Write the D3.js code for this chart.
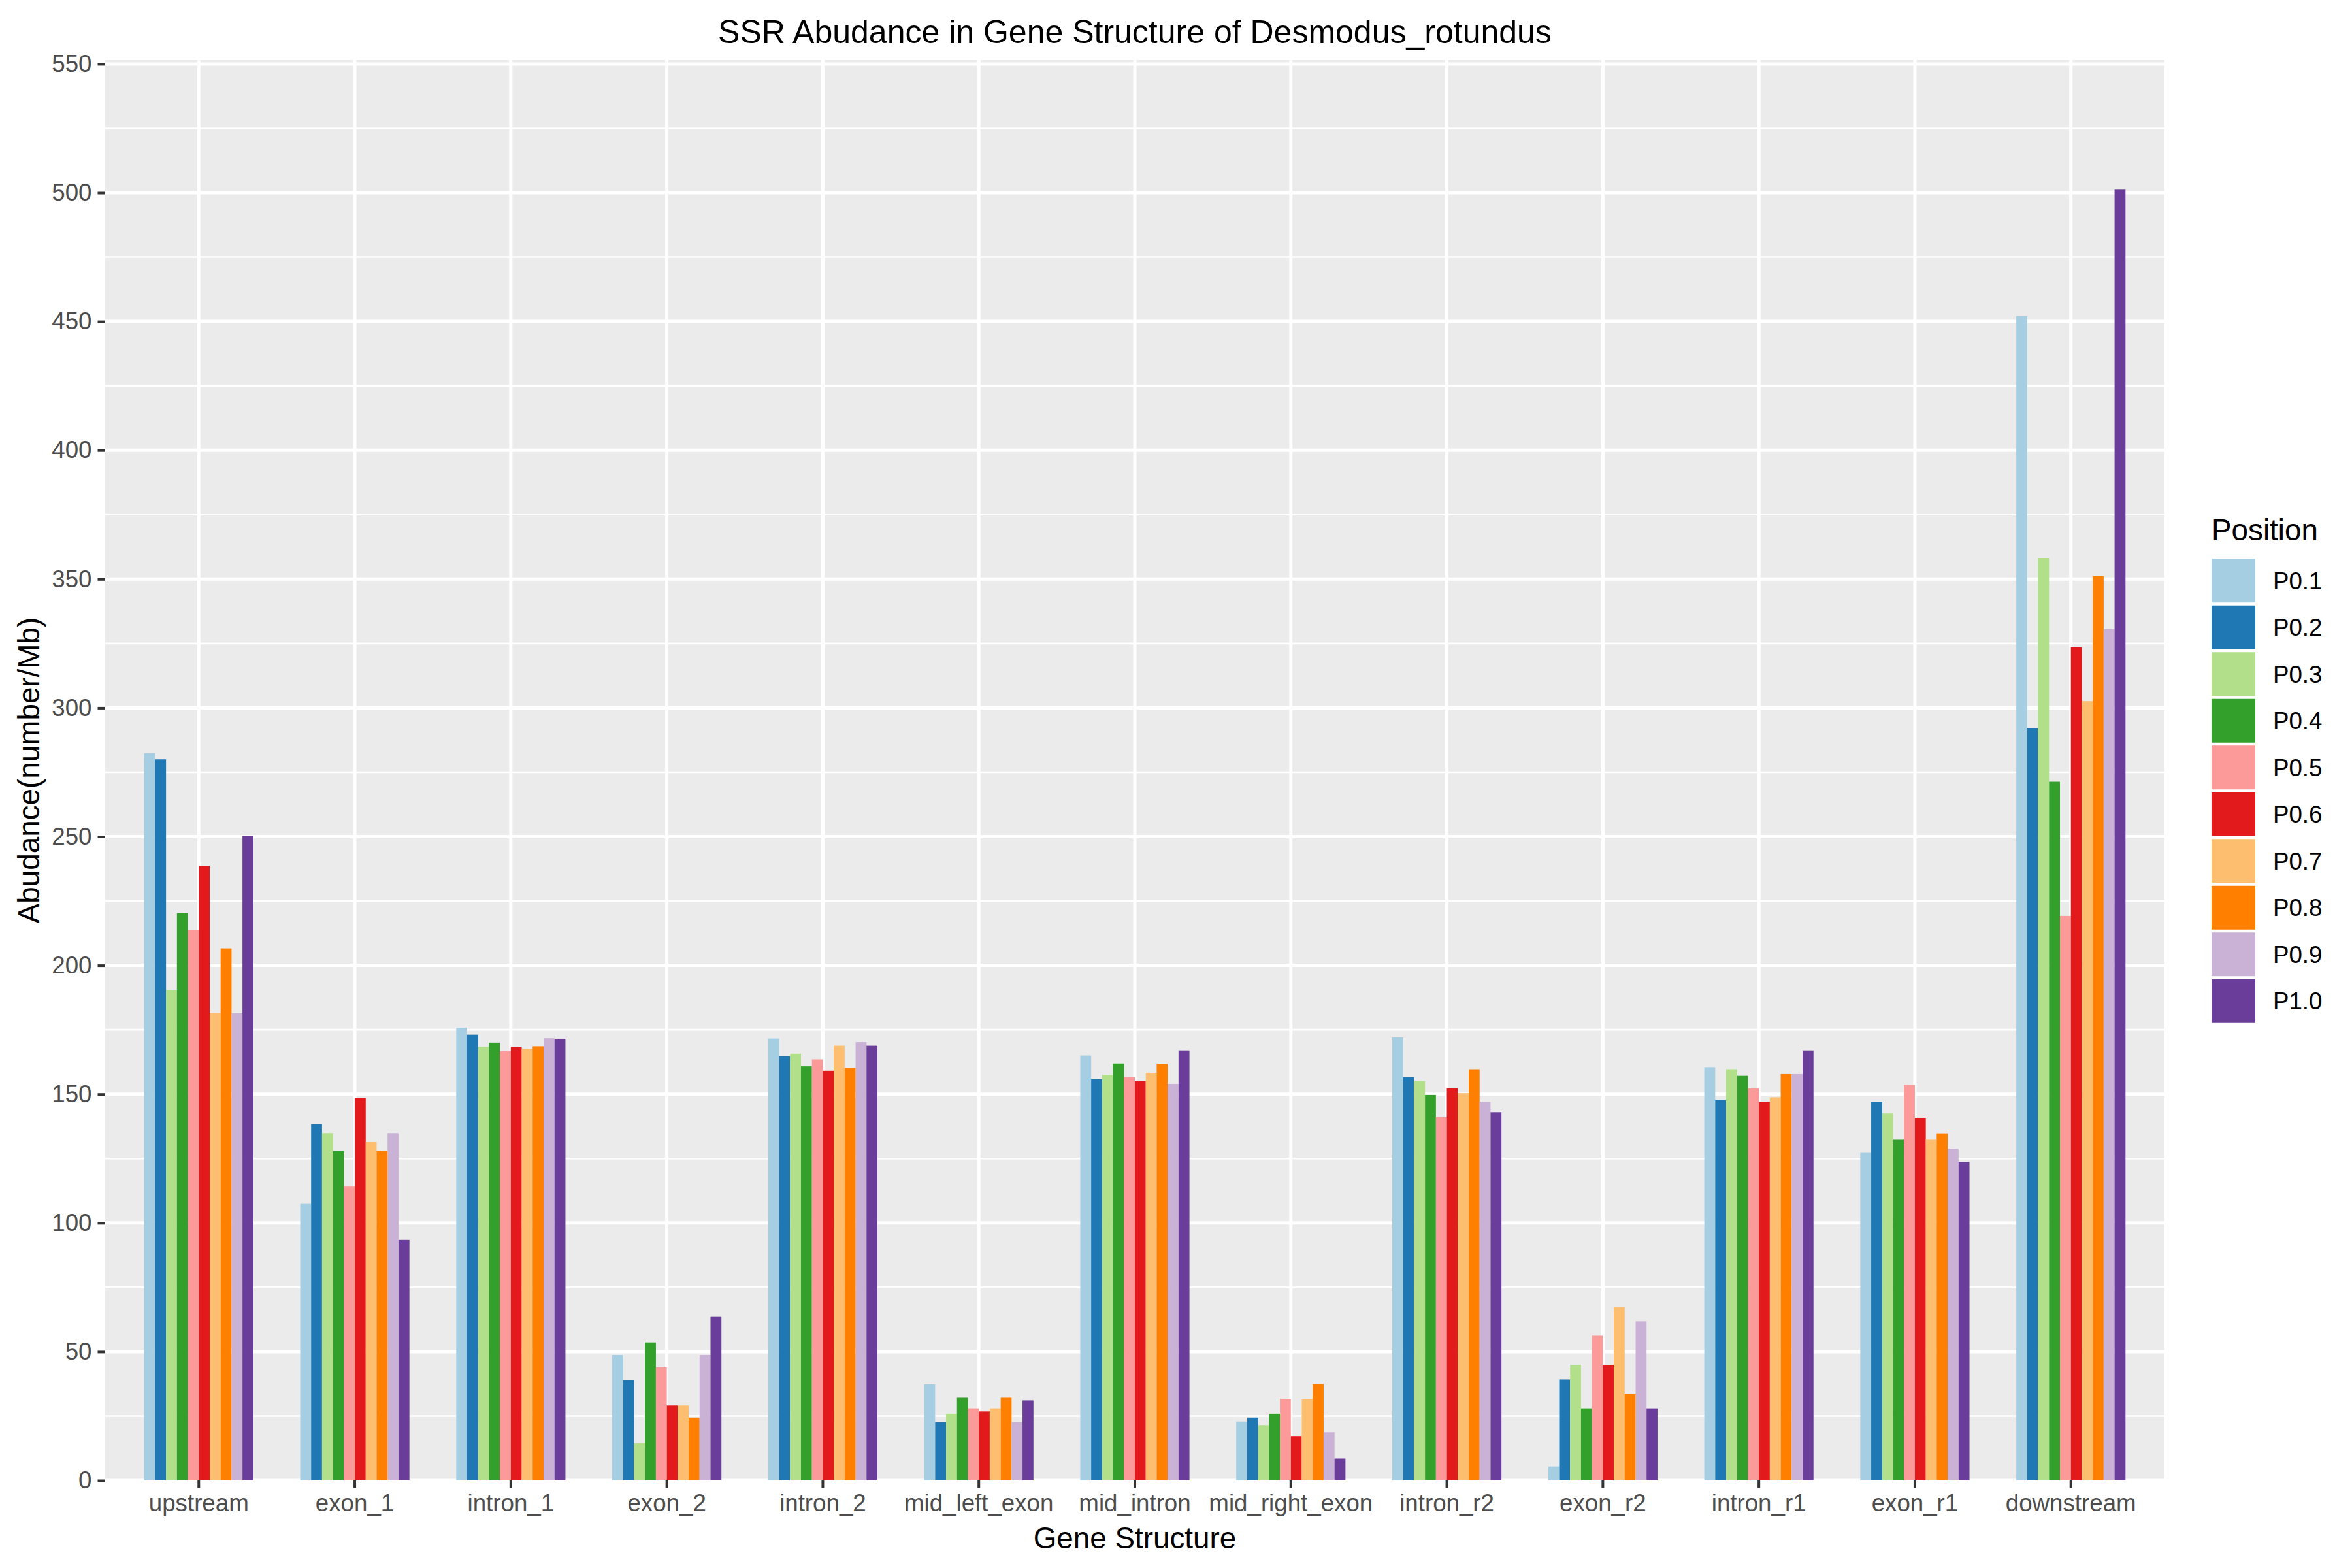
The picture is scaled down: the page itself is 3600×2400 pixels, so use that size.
<!DOCTYPE html>
<html>
<head>
<meta charset="utf-8">
<script src="https://cdn.jsdelivr.net/npm/d3@7"></script>
<style>
  html, body { margin: 0; padding: 0; background: #ffffff; }
  svg { display: block; }
  text { font-family: "Liberation Sans", Arial, Helvetica, sans-serif; }
</style>
</head>
<body>
<script>
// ---------- DATA ----------
const categories = ["upstream", "exon_1", "intron_1", "exon_2", "intron_2", "mid_left_exon",
  "mid_intron", "mid_right_exon", "intron_r2", "exon_r2", "intron_r1", "exon_r1", "downstream"];
const seriesNames = ["P0.1", "P0.2", "P0.3", "P0.4", "P0.5", "P0.6", "P0.7", "P0.8", "P0.9", "P1.0"];
const P01 = [282.4, 107.4, 175.8, 48.7, 171.6, 37.3, 165.0, 22.9, 172.0, 5.4, 160.5, 127.2, 452.1];
const P02 = [280.0, 138.4, 173.1, 39.0, 164.8, 22.7, 155.8, 24.4, 156.6, 39.2, 147.7, 146.9, 292.2];
const P03 = [190.5, 134.9, 168.4, 14.5, 165.7, 25.9, 157.5, 21.5, 155.1, 44.9, 159.7, 142.5, 358.2];
const P04 = [220.3, 127.9, 170.0, 53.6, 160.8, 32.1, 161.9, 25.9, 149.7, 28.0, 157.1, 132.3, 271.3];
const P05 = [213.6, 114.1, 166.7, 43.9, 163.5, 28.0, 156.7, 31.7, 141.1, 56.2, 152.3, 153.6, 219.2];
const P06 = [238.6, 148.6, 168.4, 29.1, 159.1, 26.8, 155.1, 17.2, 152.3, 44.9, 147.0, 140.8, 323.5];
const P07 = [181.4, 131.4, 167.6, 29.1, 168.8, 28.0, 158.3, 31.7, 150.4, 67.4, 148.8, 132.3, 302.6];
const P08 = [206.6, 127.9, 168.6, 24.4, 160.2, 32.1, 161.8, 37.4, 159.7, 33.5, 157.8, 134.8, 351.1];
const P09 = [181.4, 134.9, 171.7, 48.7, 170.2, 22.7, 154.0, 18.7, 147.0, 61.8, 157.8, 128.8, 330.6];
const P10 = [250.2, 93.4, 171.5, 63.5, 168.8, 31.1, 167.0, 8.5, 143.0, 28.0, 167.0, 123.7, 501.2];
const seriesValues = [P01, P02, P03, P04, P05, P06, P07, P08, P09, P10];
const yTicks = [0, 50, 100, 150, 200, 250, 300, 350, 400, 450, 500, 550];
const yMinorTicks = [25, 75, 125, 175, 225, 275, 325, 375, 425, 475, 525];
const colors = ["#A6CEE3", "#1F78B4", "#B2DF8A", "#33A02C", "#FB9A99", "#E31A1C",
  "#FDBF6F", "#FF7F00", "#CAB2D6", "#6A3D9A"];

const titleText = "SSR Abudance in Gene Structure of Desmodus_rotundus";
const xTitle = "Gene Structure";
const yTitle = "Abudance(number/Mb)";
const legendTitle = "Position";

// ---------- LAYOUT ----------
const W = 3600, H = 2400;
const panel = { left: 161, right: 3313, top: 92, bottom: 2266 };

const svg = d3.select("body").append("svg")
  .attr("width", W).attr("height", H)
  .attr("viewBox", `0 0 ${W} ${H}`);

svg.append("rect").attr("width", W).attr("height", H).attr("fill", "#ffffff");

const x = d3.scaleBand()
  .domain(categories)
  .range([panel.left, panel.right])
  .paddingInner(0.3)
  .paddingOuter(0.25);

const xInner = d3.scaleBand()
  .domain(seriesNames)
  .range([0, x.bandwidth()])
  .padding(0);

const y = d3.scaleLinear()
  .domain([0, 551.5])
  .range([panel.bottom, panel.top]);

const color = d3.scaleOrdinal().domain(seriesNames).range(colors);

// panel background
svg.append("rect")
  .attr("x", panel.left).attr("y", panel.top)
  .attr("width", panel.right - panel.left)
  .attr("height", panel.bottom - panel.top)
  .attr("fill", "#EBEBEB");

const grid = svg.append("g");
grid.selectAll("line.minor").data(yMinorTicks).join("line")
  .attr("class", "minor")
  .attr("x1", panel.left).attr("x2", panel.right)
  .attr("y1", d => y(d)).attr("y2", d => y(d))
  .attr("stroke", "#ffffff").attr("stroke-width", 2.6);
grid.selectAll("line.majorh").data(yTicks).join("line")
  .attr("class", "majorh")
  .attr("x1", panel.left).attr("x2", panel.right)
  .attr("y1", d => y(d)).attr("y2", d => y(d))
  .attr("stroke", "#ffffff").attr("stroke-width", 5);
grid.selectAll("line.majorv").data(categories).join("line")
  .attr("class", "majorv")
  .attr("x1", d => x(d) + x.bandwidth() / 2).attr("x2", d => x(d) + x.bandwidth() / 2)
  .attr("y1", panel.top).attr("y2", panel.bottom)
  .attr("stroke", "#ffffff").attr("stroke-width", 5);

// bars
const barData = [];
categories.forEach((c, ci) => {
  seriesNames.forEach((s, si) => {
    barData.push({ cat: c, series: s, value: seriesValues[si][ci] });
  });
});

svg.append("g").selectAll("rect").data(barData).join("rect")
  .attr("x", d => x(d.cat) + xInner(d.series))
  .attr("width", xInner.bandwidth())
  .attr("y", d => y(d.value))
  .attr("height", d => y(0) - y(d.value))
  .attr("fill", d => color(d.series));

// axes
const yAxis = d3.axisLeft(y).tickValues(yTicks).tickSize(11.5).tickPadding(9).tickFormat(d3.format("d"));
const gy = svg.append("g").attr("transform", `translate(${panel.left},0)`).call(yAxis);
gy.select(".domain").remove();
gy.selectAll(".tick line").attr("stroke", "#333333").attr("stroke-width", 4);
gy.selectAll(".tick text")
  .attr("fill", "#4D4D4D")
  .attr("font-size", 36.7)
  .attr("font-family", "Liberation Sans, Arial, sans-serif");

const xAxis = d3.axisBottom(x).tickSize(11.5).tickPadding(9);
const gx = svg.append("g").attr("transform", `translate(0,${panel.bottom})`).call(xAxis);
gx.select(".domain").remove();
gx.selectAll(".tick line").attr("stroke", "#333333").attr("stroke-width", 4);
gx.selectAll(".tick text")
  .attr("fill", "#4D4D4D")
  .attr("font-size", 36.7)
  .attr("font-family", "Liberation Sans, Arial, sans-serif");

// titles
svg.append("text")
  .attr("x", (panel.left + panel.right) / 2)
  .attr("y", 66)
  .attr("text-anchor", "middle")
  .attr("font-size", 50)
  .attr("fill", "#000000")
  .text(titleText);

svg.append("text")
  .attr("x", (panel.left + panel.right) / 2)
  .attr("y", 2370)
  .attr("text-anchor", "middle")
  .attr("font-size", 45.8)
  .attr("fill", "#000000")
  .text(xTitle);

svg.append("text")
  .attr("transform", `translate(60,${(panel.top + panel.bottom) / 2}) rotate(-90)`)
  .attr("text-anchor", "middle")
  .attr("font-size", 45.8)
  .attr("fill", "#000000")
  .text(yTitle);

// legend
const legend = svg.append("g").attr("transform", "translate(3385,0)");
legend.append("text")
  .attr("x", 0).attr("y", 827)
  .attr("font-size", 45.8)
  .attr("fill", "#000000")
  .text(legendTitle);

const keyTop = 853, keyStep = 71.5, keySize = 67;
const items = legend.selectAll("g.item").data(seriesNames).join("g")
  .attr("class", "item")
  .attr("transform", (d, i) => `translate(0,${keyTop + i * keyStep})`);
items.append("rect")
  .attr("x", 0).attr("y", 2.25)
  .attr("width", keySize).attr("height", keySize)
  .attr("fill", d => color(d));
items.append("text")
  .attr("x", 94).attr("y", keyStep / 2)
  .attr("dy", "0.35em")
  .attr("font-size", 36.7)
  .attr("fill", "#000000")
  .text(d => d);
</script>
</body>
</html>
